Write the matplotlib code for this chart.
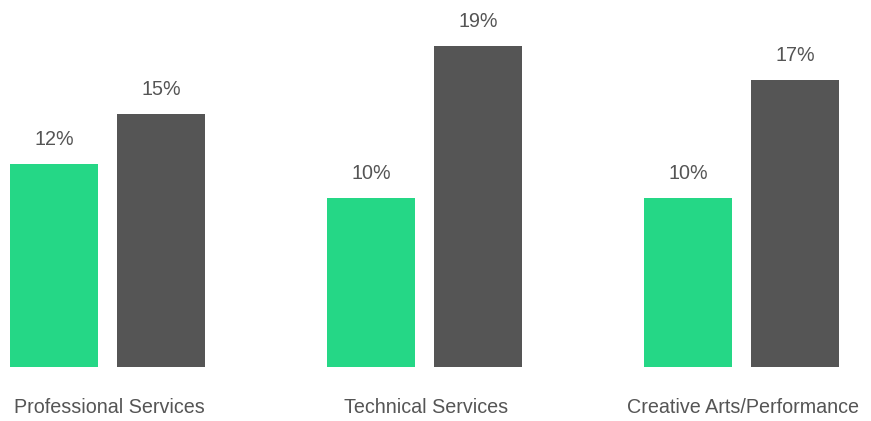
import matplotlib
matplotlib.use("Agg")
import matplotlib.pyplot as plt
import numpy as np

categories = ["Professional Services", "Technical Services", "Creative Arts/Performance"]
series_a = [12, 10, 10]
series_b = [15, 19, 17]

green = "#25D786"
dark = "#555555"
text_color = "#555555"

plt.rcParams["font.family"] = ["Liberation Sans", "DejaVu Sans"]

fig = plt.figure(figsize=(8.71, 4.21), dpi=100)
ax = fig.add_axes([0, 54 / 421, 1, 367 / 421])

x = np.arange(len(categories))
width = 88 / 317
offset = 53.5 / 317

bars_a = ax.bar(x - offset, series_a, width, color=green)
bars_b = ax.bar(x + offset, series_b, width, color=dark)

ax.set_xlim(-107.5 / 317, (871 - 107.5) / 317)
ax.set_ylim(0, 367 / 16.9)

for bars in (bars_a, bars_b):
    for b in bars:
        h = b.get_height()
        ax.annotate(f"{h:.0f}%", (b.get_x() + b.get_width() / 2, h),
                    xytext=(0, 17.5), textcoords="offset points",
                    ha="center", va="center", fontsize=14.2, color=text_color)

for xi, name in zip(x, categories):
    ax.annotate(name, (xi, 0), xytext=(1, -29.5), textcoords="offset points",
                ha="center", va="center", fontsize=14.2, color=text_color,
                annotation_clip=False)

ax.axis("off")
fig.savefig("out.png", dpi=100)
